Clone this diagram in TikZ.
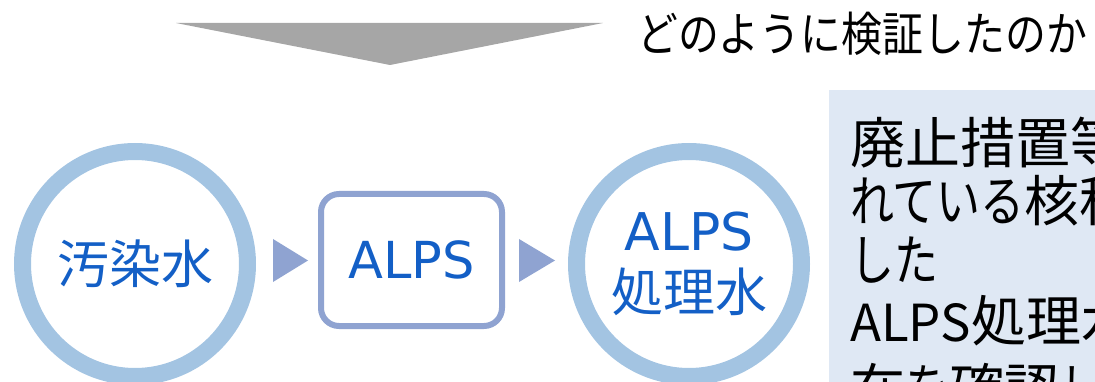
\documentclass[tikz,border=0pt]{standalone}
\usepackage{fontspec}
\setmainfont{Noto Sans CJK JP}
\newfontfamily\kanaf[FakeStretch=0.8]{Noto Sans CJK JP}
\newfontfamily\titlef[FakeStretch=0.87]{Noto Sans CJK JP}
\newfontfamily\latinf{DejaVu Sans}
\definecolor{ringc}{HTML}{A3C4E2}
\definecolor{arrowc}{HTML}{8FA3D1}
\definecolor{txtblue}{HTML}{135FC6}
\definecolor{boxfill}{HTML}{DFE8F4}
\definecolor{headgray}{HTML}{A6A6A6}
\begin{document}
\begin{tikzpicture}[x=1pt,y=-1pt,
  ring/.style={circle, draw=ringc, line width=17pt, minimum size=225pt, inner sep=0pt,
    text=txtblue, font=\fontsize{52}{61.5}\selectfont, align=center},
  procbox/.style={draw=arrowc, line width=6pt, rounded corners=18pt, minimum width=181pt,
    minimum height=132pt, inner sep=0pt, text=txtblue, font=\latinf\fontsize{51}{60}\selectfont},
  flowtri/.style={fill=arrowc},
  boxline/.style={anchor=west, inner sep=0pt, font=\fontsize{55}{60}\selectfont, text=black},
  titletext/.style={anchor=west, inner sep=0pt, font=\titlef\fontsize{47}{52}\selectfont, text=black}]
\useasboundingbox (0,0) rectangle (1095,382);
\clip (0,0) rectangle (1095,382);
% big downward head
\fill[headgray] (176,23) -- (603,23) -- (390,65) -- cycle;
\node[titletext] (title) at (637,34) {どのように検証したのか};
% light blue panel
\fill[boxfill] (829,90) rectangle (1110,400);
\node[boxline] (l1) at (850,143) {廃止措置等};
\node[boxline] (l2) at (850,201) {{\kanaf れている}核種};
\node[boxline] (l3) at (850,260) {{\kanaf した}};
\node[boxline] (l4) at (850,321) {{\fontsize{51}{60}\selectfont ALPS}処理水};
\node[boxline] (l5) at (850,389) {在{\kanaf を}確認{\kanaf して}};
% flow
\node[ring] (c1) at (135,264) {\raisebox{3pt}{汚染水}};
\node[procbox] (alps) at (411.5,260) {ALPS};
\node[ring] (c2) at (689,264) {{\latinf ALPS}\\処理水};
\coordinate (a1) at (273,260.5);
\coordinate (a2) at (519,260.5);
\fill[flowtri] (a1) ++(0,-21.5) -- ++(35,21.5) -- ++(-35,21.5) -- cycle;
\fill[flowtri] (a2) ++(0,-21.5) -- ++(36,21.5) -- ++(-36,21.5) -- cycle;
\end{tikzpicture}
\end{document}
